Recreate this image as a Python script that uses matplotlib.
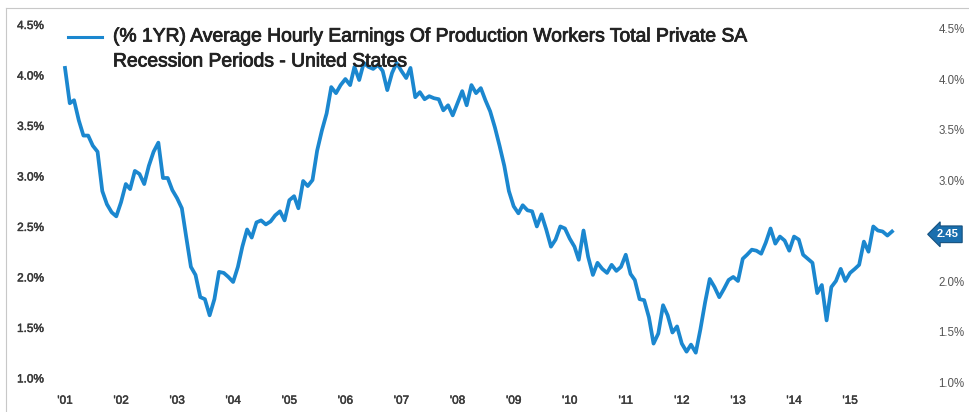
import matplotlib
matplotlib.use("Agg")
import matplotlib.pyplot as plt
import matplotlib.dates as mdates
import matplotlib.patheffects as pe
from matplotlib.lines import Line2D
import pandas as pd

# ---- data (monthly, Jan 2001 - Oct 2015), % y/y ----
start_month = "2001-01-01"
earnings_yoy = [
    4.07, 3.72, 3.75, 3.55, 3.40, 3.40, 3.30, 3.24, 2.85, 2.72, 2.64, 2.60,   # 2001
    2.74, 2.92, 2.87, 3.05, 3.02, 2.92, 3.10, 3.24, 3.33, 2.98, 2.98, 2.86,   # 2002
    2.78, 2.68, 2.40, 2.10, 2.02, 1.80, 1.78, 1.62, 1.78, 2.05, 2.04, 2.00,   # 2003
    1.95, 2.10, 2.30, 2.47, 2.39, 2.54, 2.56, 2.52, 2.55, 2.61, 2.65, 2.56,   # 2004
    2.76, 2.80, 2.68, 2.95, 2.90, 2.96, 3.25, 3.45, 3.62, 3.88, 3.82, 3.90,   # 2005
    3.96, 3.90, 4.08, 3.95, 4.12, 4.08, 4.06, 4.10, 4.04, 3.85, 4.02, 4.12,   # 2006
    4.04, 3.97, 4.07, 3.78, 3.83, 3.76, 3.79, 3.77, 3.76, 3.65, 3.70, 3.60,   # 2007
    3.72, 3.84, 3.70, 3.90, 3.82, 3.87, 3.75, 3.64, 3.48, 3.30, 3.10, 2.85,   # 2008
    2.70, 2.63, 2.71, 2.66, 2.65, 2.50, 2.62, 2.47, 2.30, 2.37, 2.50, 2.48,   # 2009
    2.38, 2.30, 2.17, 2.46, 2.20, 2.02, 2.14, 2.08, 2.04, 2.12, 2.06, 2.10,   # 2010
    2.22, 2.03, 1.97, 1.78, 1.77, 1.60, 1.34, 1.44, 1.72, 1.62, 1.45, 1.51,   # 2011
    1.34, 1.26, 1.33, 1.25, 1.48, 1.75, 1.98, 1.90, 1.80, 1.88, 1.97, 2.00,   # 2012
    1.96, 2.18, 2.22, 2.27, 2.26, 2.23, 2.34, 2.48, 2.33, 2.40, 2.36, 2.26,   # 2013
    2.40, 2.37, 2.22, 2.18, 2.14, 1.84, 1.92, 1.57, 1.90, 1.96, 2.08, 1.96,   # 2014
    2.04, 2.08, 2.12, 2.35, 2.25, 2.50, 2.46, 2.45, 2.41, 2.45,               # 2015
]
last_label = "2.45"
year_labels = ["'01", "'02", "'03", "'04", "'05", "'06", "'07", "'08",
               "'09", "'10", "'11", "'12", "'13", "'14", "'15"]
y_ticks = [1.0, 1.5, 2.0, 2.5, 3.0, 3.5, 4.0, 4.5]
right_ticks = [1.0, 1.5, 2.0, 3.0, 3.5, 4.0, 4.5]
legend_line1 = "(% 1YR) Average Hourly Earnings Of Production Workers Total Private SA"
legend_line2 = "Recession Periods - United States"

BLUE = "#1b87cf"
TXT = "#3a3a3a"
FONT = "Liberation Sans"

dates = pd.date_range(start_month, periods=len(earnings_yoy), freq="MS")

W, H = 969, 412
fig = plt.figure(figsize=(W / 100, H / 100), dpi=100)
ax = fig.add_axes([55 / W, 1 - 385 / H, (905 - 55) / W, (385 - 15) / H])

ax.plot(dates, earnings_yoy, color=BLUE, lw=2.7, solid_joinstyle="round")

# x scale: Jan 2001 -> px 65 ; Oct 2015 -> px 892
d0 = mdates.date2num(dates[0])
d1 = mdates.date2num(dates[-1])
ppd = (892 - 65) / (d1 - d0)
ax.set_xlim(d0 - (65 - 55) / ppd, d1 + (905 - 892) / ppd)
ax.set_ylim(0.93, 4.594)

thin = [pe.withStroke(linewidth=0.35, foreground=TXT)]

tick_dates = [pd.Timestamp(f"20{lbl[1:]}-01-01") for lbl in year_labels]
ax.set_xticks(tick_dates)
ax.set_xticklabels(year_labels)
ax.set_yticks(y_ticks)
ax.set_yticklabels([f"{v:.1f}%" for v in y_ticks])
ax.tick_params(axis="both", length=0, labelsize=8.5, labelcolor=TXT)
ax.tick_params(axis="y", pad=8)
ax.tick_params(axis="x", pad=7)
for lab in ax.get_xticklabels() + ax.get_yticklabels():
    lab.set_fontfamily(FONT)
    lab.set_path_effects(thin)

ax2 = ax.twinx()
ax2.set_ylim(ax.get_ylim())
ax2.set_yticks(right_ticks)
ax2.set_yticklabels([f"{v:.1f}%" for v in right_ticks])
ax2.tick_params(axis="y", length=0, labelsize=8.3, labelcolor="#555555", pad=24)
for lab in ax2.get_yticklabels():
    lab.set_fontfamily(FONT)
    lab.set_va("top")

for a in (ax, ax2):
    for s in a.spines.values():
        s.set_visible(False)

# last-value tag on right
ax2.annotate(last_label, xy=(1.0, earnings_yoy[-1]), xycoords=("axes fraction", "data"),
             xytext=(23, -2), textcoords="offset points", va="center", ha="left",
             fontsize=8, color="white", fontweight="bold", family=FONT,
             bbox=dict(boxstyle="larrow,pad=0.3", fc="#1a6fae", ec="#15507e", lw=0.8))

# legend (manual)
fig.add_artist(Line2D([68 / W, 102 / W], [1 - 37 / H, 1 - 37 / H], color=BLUE, lw=2.2))
leg_fx = [pe.withStroke(linewidth=0.6, foreground="#222222")]
fig.text(113 / W, 1 - 37 / H, legend_line1, fontsize=13.9, color="#222222",
         family=FONT, va="center", ha="left", path_effects=leg_fx)
fig.text(113 / W, 1 - 62 / H, legend_line2, fontsize=13.9, color="#222222",
         family=FONT, va="center", ha="left", path_effects=leg_fx)

# faint scan border
fig.add_artist(Line2D([6 / W, 1.0], [1 - 8 / H, 1 - 8 / H], color="#c8c8c8", lw=0.8))
fig.add_artist(Line2D([6 / W, 6 / W], [0, 1 - 8 / H], color="#c8c8c8", lw=0.8))

fig.savefig("out.png", dpi=100, facecolor="white")
